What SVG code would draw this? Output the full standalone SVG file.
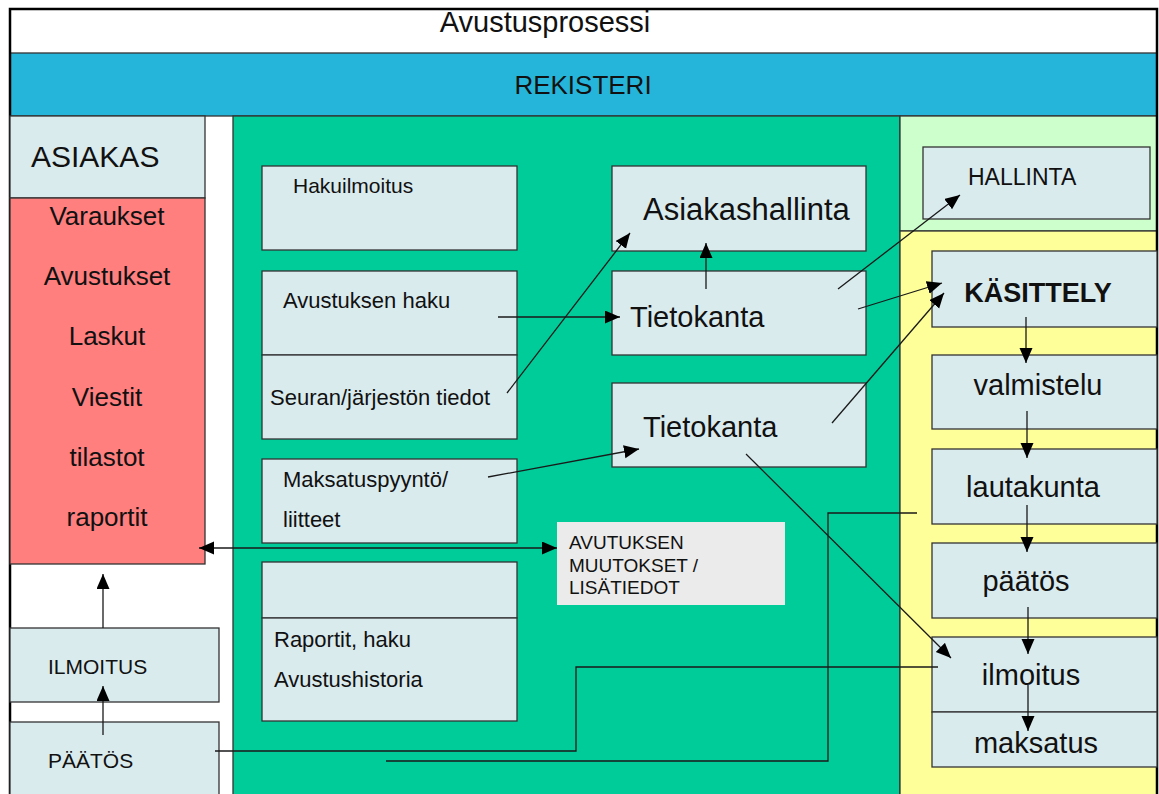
<svg xmlns="http://www.w3.org/2000/svg" width="1159" height="794" viewBox="0 0 1159 794">
  <style>
    text { font-family: "Liberation Sans", Arial, sans-serif; fill: #111; }
    .box { fill: #DAEBEE; stroke: #333; stroke-width: 1.3; }
    .band { stroke: #333; stroke-width: 1.3; }
    .conn { fill: none; stroke: #1a1a1a; stroke-width: 1.3; }
    .arr { marker-end: url(#head); }
    .big { font-size: 29px; }
    .mid { font-size: 22px; }
    .list { font-size: 26px; text-anchor: middle; }
    .c { text-anchor: middle; }
  </style>
  <defs>
    <marker id="head" markerUnits="userSpaceOnUse" markerWidth="16" markerHeight="14" refX="15" refY="6.5" orient="auto-start-reverse">
      <path d="M0,0 L15,6.5 L0,13 z" fill="#000"/>
    </marker>
  </defs>

  <!-- page background and bands -->
  <rect x="0" y="0" width="1159" height="794" fill="#fff"/>
  <rect x="10" y="53" width="1147" height="63" fill="#25B5DA" class="band"/>
  <rect x="233" y="116" width="667" height="700" fill="#00CC99" class="band"/>
  <rect x="900" y="116" width="257" height="115" fill="#CCFFCC" class="band"/>
  <rect x="900" y="231" width="257" height="600" fill="#FFFF99" class="band"/>
  <path d="M10,800 V9 H1157 V800" fill="none" stroke="#000" stroke-width="2.5"/>

  <text x="545" y="32" class="c" font-size="29">Avustusprosessi</text>
  <text x="583" y="94" class="c" font-size="26">REKISTERI</text>

  <!-- left column: customer -->
  <g id="asiakas">
    <rect x="10" y="116" width="195" height="82" class="box"/>
    <text x="31" y="167" font-size="30">ASIAKAS</text>
  </g>
  <g id="asiakas-tiedot">
    <rect x="10" y="198" width="195" height="366" fill="#FF7F7F" stroke="#333" stroke-width="1.3"/>
    <text x="107" y="225" class="list">Varaukset</text>
    <text x="107" y="285" class="list">Avustukset</text>
    <text x="107" y="345" class="list">Laskut</text>
    <text x="107" y="406" class="list">Viestit</text>
    <text x="107" y="466" class="list">tilastot</text>
    <text x="107" y="526" class="list">raportit</text>
  </g>
  <g id="ilmoitus-asiakas">
    <rect x="10" y="628" width="209" height="74" class="box"/>
    <text x="48" y="674" font-size="21">ILMOITUS</text>
  </g>
  <g id="paatos-asiakas">
    <rect x="10" y="722" width="209" height="90" class="box"/>
    <text x="48" y="768" font-size="21">PÄÄTÖS</text>
  </g>

  <!-- green column: forms -->
  <g id="hakuilmoitus">
    <rect x="262" y="166" width="255" height="84" class="box"/>
    <text x="293" y="193" font-size="21">Hakuilmoitus</text>
  </g>
  <g id="avustuksen-haku">
    <rect x="262" y="271" width="255" height="84" class="box"/>
    <text x="283" y="308" class="mid">Avustuksen haku</text>
  </g>
  <g id="seuran-tiedot">
    <rect x="262" y="355" width="255" height="84" class="box"/>
    <text x="270" y="405" class="mid">Seuran/järjestön tiedot</text>
  </g>
  <g id="maksatuspyynto">
    <rect x="262" y="459" width="255" height="84" class="box"/>
    <text x="283" y="487" class="mid">Maksatuspyyntö/</text>
    <text x="283" y="527" class="mid">liitteet</text>
  </g>
  <g id="raportit">
    <rect x="262" y="562" width="255" height="56" class="box"/>
    <rect x="262" y="618" width="255" height="103" class="box"/>
    <text x="274" y="647" class="mid">Raportit, haku</text>
    <text x="274" y="687" class="mid">Avustushistoria</text>
  </g>

  <g id="asiakashallinta">
    <rect x="612" y="166" width="254" height="85" class="box"/>
    <text x="643" y="220" font-size="31">Asiakashallinta</text>
  </g>
  <g id="tietokanta-1">
    <rect x="612" y="271" width="254" height="84" class="box"/>
    <text x="630" y="327" class="big">Tietokanta</text>
  </g>
  <g id="tietokanta-2">
    <rect x="612" y="383" width="254" height="84" class="box"/>
    <text x="643" y="437" class="big">Tietokanta</text>
  </g>
  <g id="muutokset">
    <rect x="557" y="522" width="228" height="83" fill="#EBEBEB"/>
    <text x="569" y="549" font-size="19">AVUTUKSEN</text>
    <text x="569" y="572" font-size="19">MUUTOKSET /</text>
    <text x="569" y="594" font-size="19">LISÄTIEDOT</text>
  </g>

  <!-- right column: handling -->
  <g id="hallinta">
    <rect x="923" y="147" width="227" height="72" class="box"/>
    <text x="968" y="185" font-size="23">HALLINTA</text>
  </g>
  <g id="kasittely">
    <rect x="932" y="251" width="225" height="76" class="box"/>
    <text x="1038" y="302" class="c" font-size="27" font-weight="bold">KÄSITTELY</text>
  </g>
  <g id="valmistelu">
    <rect x="932" y="355" width="225" height="74" class="box"/>
    <text x="1038" y="395" class="c big">valmistelu</text>
  </g>
  <g id="lautakunta">
    <rect x="932" y="449" width="225" height="75" class="box"/>
    <text x="1033" y="497" class="c big">lautakunta</text>
  </g>
  <g id="paatos">
    <rect x="932" y="543" width="225" height="75" class="box"/>
    <text x="1026" y="591" class="c big">päätös</text>
  </g>
  <g id="ilmoitus">
    <rect x="932" y="637" width="225" height="75" class="box"/>
    <text x="1031" y="685" class="c big">ilmoitus</text>
  </g>
  <g id="maksatus">
    <rect x="932" y="712" width="225" height="55" class="box"/>
    <text x="1036" y="753" class="c big">maksatus</text>
  </g>

  <!-- connectors -->
  <g id="connectors">
    <line x1="498" y1="317" x2="620" y2="317" class="conn arr"/>
    <line x1="507" y1="393" x2="630" y2="233" class="conn arr"/>
    <line x1="706" y1="289" x2="706" y2="243" class="conn arr"/>
    <line x1="838" y1="289" x2="960" y2="195" class="conn arr"/>
    <line x1="858" y1="309" x2="942" y2="283" class="conn arr"/>
    <line x1="832" y1="423" x2="944" y2="293" class="conn arr"/>
    <line x1="488" y1="477" x2="639" y2="449" class="conn arr"/>
    <line x1="746" y1="454" x2="951" y2="658" class="conn arr"/>
    <line x1="199" y1="548" x2="557" y2="548" class="conn arr" marker-start="url(#head)"/>
    <line x1="103" y1="628" x2="103" y2="574" class="conn arr"/>
    <line x1="103" y1="735" x2="103" y2="686" class="conn arr"/>
    <line x1="1026" y1="317" x2="1026" y2="363" class="conn arr"/>
    <line x1="1027" y1="411" x2="1027" y2="458" class="conn arr"/>
    <line x1="1027" y1="505" x2="1027" y2="552" class="conn arr"/>
    <line x1="1028" y1="607" x2="1028" y2="654" class="conn arr"/>
    <line x1="1028" y1="685" x2="1028" y2="731" class="conn arr"/>
    <polyline points="215,751 576,751 576,667 938,667" class="conn"/>
    <polyline points="386,761 828,761 828,513 917,513" class="conn"/>
  </g>
</svg>
